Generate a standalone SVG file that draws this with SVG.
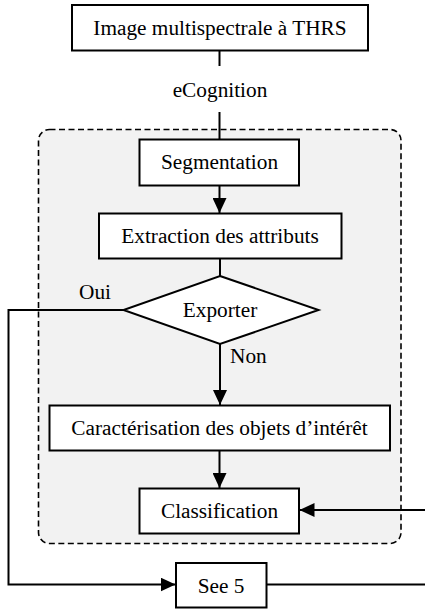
<svg xmlns="http://www.w3.org/2000/svg" width="425" height="612" viewBox="0 0 425 612">
<defs>
<style>
.box{fill:#fff;stroke:#000;stroke-width:2}
.t{font-family:"Liberation Serif","Times New Roman",serif;font-size:21.3px;fill:#000}
.c{text-anchor:middle}
.ln{fill:none;stroke:#000;stroke-width:2}
</style>
<marker id="ah" viewBox="0 0 15 14" refX="15" refY="7" markerWidth="15" markerHeight="14" markerUnits="userSpaceOnUse" orient="auto">
<path d="M0,0 L15,7 L0,14 Z" fill="#000"/>
</marker>
</defs>
<g id="group-ecognition">
<rect x="38.5" y="129.5" width="362.5" height="414" rx="11" ry="11" fill="#f2f2f2" stroke="#000" stroke-width="1.6" stroke-dasharray="6,3.5"/>
</g>
<g id="connectors">
<line class="ln" x1="219.5" y1="51" x2="219.5" y2="66"/>
<line class="ln" x1="219.5" y1="112" x2="219.5" y2="139"/>
<line class="ln" x1="219.5" y1="185.5" x2="219.5" y2="213" marker-end="url(#ah)"/>
<line class="ln" x1="220" y1="259" x2="220" y2="276"/>
<line class="ln" x1="220" y1="344" x2="220" y2="405" marker-end="url(#ah)"/>
<line class="ln" x1="219.5" y1="451" x2="219.5" y2="488" marker-end="url(#ah)"/>
<polyline class="ln" points="123.5,310 8.5,310 8.5,584.5 175.5,584.5" marker-end="url(#ah)"/>
<line class="ln" x1="267" y1="584.5" x2="425" y2="584.5"/>
<line class="ln" x1="425" y1="510" x2="299.5" y2="510" marker-end="url(#ah)"/>
<text class="t c" x="220" y="97">eCognition</text>
<text class="t" x="79" y="299">Oui</text>
<text class="t" x="230" y="363">Non</text>
</g>
<g id="node-image">
<rect class="box" x="72" y="5" width="296" height="45.5"/>
<text class="t c" x="220" y="34.5">Image multispectrale à THRS</text>
</g>
<g id="node-segmentation">
<rect class="box" x="139.5" y="139.5" width="159.5" height="46"/>
<text class="t c" x="219.5" y="169">Segmentation</text>
</g>
<g id="node-extraction">
<rect class="box" x="99" y="213.5" width="242.5" height="45"/>
<text class="t c" x="220" y="243">Extraction des attributs</text>
</g>
<g id="node-exporter">
<polygon class="box" points="220,276 318.5,310 220,344 123.5,310"/>
<text class="t c" x="220" y="317">Exporter</text>
</g>
<g id="node-caracterisation">
<rect class="box" x="49.5" y="405.5" width="340.5" height="45"/>
<text class="t c" x="219.5" y="435">Caractérisation des objets d’intérêt</text>
</g>
<g id="node-classification">
<rect class="box" x="139.5" y="488.5" width="159.5" height="45"/>
<text class="t c" x="219.5" y="518">Classification</text>
</g>
<g id="node-see5">
<rect class="box" x="176" y="563" width="90.5" height="44.5"/>
<text class="t c" x="221" y="592.5">See 5</text>
</g>
</svg>
